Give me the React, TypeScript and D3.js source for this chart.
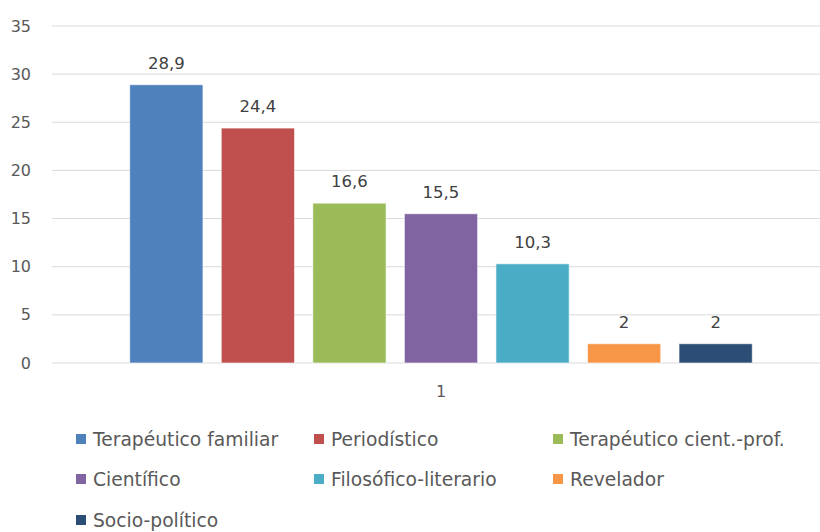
import { useMemo } from 'react';
import * as d3 from 'd3';

const categories = ['1'];
const seriesNames = [
  'Terapéutico familiar',
  'Periodístico',
  'Terapéutico cient.-prof.',
  'Científico',
  'Filosófico-literario',
  'Revelador',
  'Socio-político',
];
const seriesValues = [28.9, 24.4, 16.6, 15.5, 10.3, 2, 2];
const seriesColors = ['#4f81bd', '#c0504d', '#9bbb59', '#8064a2', '#4bacc6', '#f79646', '#2c4d75'];
const yTicks = [0, 5, 10, 15, 20, 25, 30, 35];

const WIDTH = 820;
const HEIGHT = 532;
const FONT = '"DejaVu Sans", sans-serif';

const fmt = (v: number) => String(v).replace('.', ',');

export default function App() {
  const margin = { top: 26, right: -10, bottom: 169, left: 52 };
  const plotBottom = HEIGHT - margin.bottom;

  const y = useMemo(() => d3.scaleLinear().domain([0, 35]).range([plotBottom, margin.top]), []);
  const x0 = useMemo(
    () => d3.scaleBand<string>().domain(categories).range([margin.left, WIDTH - margin.right]).paddingOuter(0.107).paddingInner(0),
    []
  );
  const x1 = useMemo(
    () =>
      d3
        .scaleBand<string>()
        .domain(seriesNames)
        .range([0, x0.bandwidth()])
        .paddingInner(0.2)
        .paddingOuter(0.1),
    [x0]
  );

  // legend grid: 3 columns, rows of 40px
  const legendCols = [77, 315, 554];
  const legendRows = [439, 479, 520];

  return (
    <svg width={WIDTH} height={HEIGHT} style={{ position: 'absolute', left: 0, top: 0 }} fontFamily={FONT}>
      <rect width={WIDTH} height={HEIGHT} fill="#fff" />
      <g>
        {yTicks.map((t) => (
          <g key={t}>
            <line x1={margin.left} x2={WIDTH} y1={y(t)} y2={y(t)} stroke="#d9d9d9" strokeWidth={1} />
            <text x={31} y={y(t)} dy="0.35em" textAnchor="end" fontSize={16} fill="#595959">
              {t}
            </text>
          </g>
        ))}
      </g>
      {categories.map((c) => (
        <g key={c} transform={`translate(${x0(c)},0)`}>
          {seriesNames.map((s, i) => {
            const v = seriesValues[i];
            const bx = x1(s) ?? 0;
            return (
              <g key={s}>
                <rect
                  x={bx}
                  y={y(v)}
                  width={x1.bandwidth()}
                  height={plotBottom - y(v)}
                  fill={seriesColors[i]}
                  stroke="#ffffff"
                  strokeOpacity={0.6}
                  strokeWidth={1}
                />
                <text
                  x={bx + x1.bandwidth() / 2}
                  y={y(v) - 16}
                  textAnchor="middle"
                  fontSize={16.5}
                  fill="#404040"
                >
                  {fmt(v)}
                </text>
              </g>
            );
          })}
          <text x={x0.bandwidth() / 2} y={plotBottom + 28} dy="0.35em" textAnchor="middle" fontSize={16} fill="#595959">
            {c}
          </text>
        </g>
      ))}
      <g>
        {seriesNames.map((s, i) => {
          const lx = legendCols[i % 3];
          const ly = legendRows[Math.floor(i / 3)];
          return (
            <g key={s}>
              <rect x={lx - 1} y={ly - 5} width={10} height={10} fill={seriesColors[i]} />
              <text x={lx + 16} y={ly} dy="0.35em" fontSize={18.7} fill="#595959">
                {s}
              </text>
            </g>
          );
        })}
      </g>
    </svg>
  );
}
